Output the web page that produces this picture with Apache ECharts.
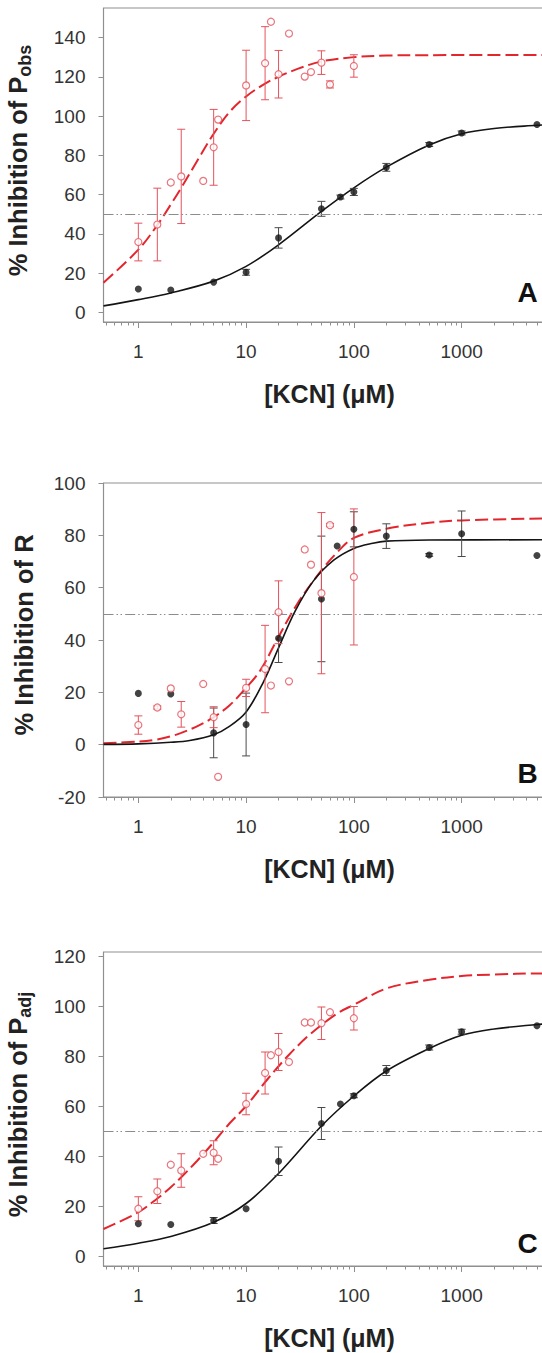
<!DOCTYPE html>
<html>
<head>
<meta charset="utf-8">
<title>KCN inhibition</title>
<script src="https://cdn.jsdelivr.net/npm/echarts@6.0.0/dist/echarts.min.js"></script>
<style>
html,body{margin:0;padding:0;background:#ffffff;}
#chart{width:542px;height:1353px;}
</style>
</head>
<body>
<div id="chart"></div>
<script>
// ---------------- shared axis data ----------------
const xMajorTicks = [1, 10, 100, 1000];
const xMinorTicks = [0.5,0.6,0.7,0.8,0.9,2,3,4,5,6,7,8,9,20,30,40,50,60,70,80,90,200,300,400,500,600,700,800,900,2000,3000,4000,5000,6000];
const xAxisTitle = '[KCN] (\u03bcM)';
const halfLine = 50;

// ---------------- Panel A : P_obs ----------------
const aYTicks = [0, 20, 40, 60, 80, 100, 120, 140];
const aBlackX = [1, 2, 5, 10, 20, 50, 75, 100, 200, 500, 1000, 5000];
const aBlackY = [12, 11.5, 15.5, 20.5, 38, 52.8, 58.8, 61.4, 73.9, 85.5, 91.4, 95.7];
const aBlackErr = [0, 0, 0, 1.5, 5.2, 3.8, 1, 1.8, 2, 1, 1, 0];
const aRedX = [1, 1.5, 2, 2.5, 4, 5, 5.5, 10, 15, 17, 20, 25, 35, 40, 50, 60, 100];
const aRedY = [35.9, 44.8, 66.2, 69.3, 67.0, 84.1, 98.2, 115.6, 126.9, 148, 121.3, 142, 120.1, 122.4, 127.2, 116.1, 125.5];
const aRedErr = [9.6, 18.5, 0, 24, 0, 19.3, 0, 17.9, 18.6, 0, 12.1, 0, 0, 0, 6, 1.8, 5.7];
const aBlackFit = [[0.475,3.4],[1,6.6],[2,10],[5,16],[10,23.5],[20,34.5],[50,51.5],[100,63.5],[200,74],[500,85.3],[1000,91],[2000,93.7],[5000,95.3],[6000,95.5]];
const aRedFit = [[0.475,15.2],[1,32],[1.5,44.5],[2,55],[2.5,63.5],[3.5,77],[5,91],[7,102],[10,110],[15,116.5],[20,120],[30,124],[50,127.8],[100,130],[200,130.8],[500,131],[6000,131.1]];

// ---------------- Panel B : R ----------------
const bYTicks = [-20, 0, 20, 40, 60, 80, 100];
const bBlackX = [1, 2, 5, 10, 20, 50, 70, 100, 200, 500, 1000, 5000];
const bBlackY = [19.6, 19.4, 4.5, 7.7, 40.7, 55.7, 75.9, 82.3, 79.7, 72.5, 80.6, 72.3];
const bBlackErr = [0, 0, 9.5, 12, 9.3, 24, 0, 6.7, 4.7, 0.5, 8.7, 0];
const bRedX = [1, 1.5, 2, 2.5, 4, 5, 5.5, 10, 15, 17, 20, 25, 35, 40, 50, 60, 100];
const bRedY = [7.5, 14.2, 21.5, 11.6, 23.2, 10.5, -12.3, 21.7, 28.9, 22.6, 50.6, 24.2, 74.6, 68.8, 57.9, 83.9, 64.1];
const bRedErr = [3.5, 0.6, 0, 4.9, 0, 4, 0, 3.3, 16.7, 0, 12, 0, 0, 0, 30.8, 0.6, 26];
const bBlackFit = [[0.475,0.1],[1,0.3],[2,0.9],[3,1.6],[5,3.8],[7,7],[10,12.5],[14.5,24],[20,37],[28.5,51],[42,62.5],[65,70.5],[100,75],[150,77],[200,77.8],[500,78.2],[6000,78.3]];
const bRedFit = [[0.475,0.5],[1,1.2],[1.5,2],[2,3.2],[2.5,4.5],[3.5,7],[5,10.5],[7,15],[9.4,20.5],[13.5,28.3],[19.3,40],[29.5,53.5],[48.7,66],[70,73.5],[100,79],[200,82.5],[500,84.8],[1000,85.7],[6000,86.5]];

// ---------------- Panel C : P_adj ----------------
const cYTicks = [0, 20, 40, 60, 80, 100, 120];
const cBlackX = [1, 2, 5, 10, 20, 50, 75, 100, 200, 500, 1000, 5000];
const cBlackY = [12.9, 12.6, 14.2, 18.9, 37.9, 53, 60.8, 64.1, 74.2, 83.4, 89.7, 92.1];
const cBlackErr = [0, 0, 1.2, 0, 5.7, 6.4, 0, 0.8, 2, 1, 1, 0];
const cRedX = [1, 1.5, 2, 2.5, 4, 5, 5.5, 10, 15, 17, 20, 25, 35, 40, 50, 60, 100];
const cRedY = [18.9, 25.9, 36.5, 34.2, 40.9, 41.3, 38.9, 60.8, 73.2, 80.3, 81.6, 77.6, 93.4, 93.4, 93.1, 97.5, 95.1];
const cRedErr = [4.8, 4.9, 0, 6.7, 0, 4.8, 0, 4.3, 8.4, 0, 7.4, 0, 0, 0, 6.5, 0, 4.7];
const cBlackFit = [[0.475,2.9],[1,5.1],[2,7.8],[5,13.5],[10,21],[20,33],[50,52],[100,64],[200,74],[500,83],[1000,88.3],[2000,90.8],[5000,92.6],[6000,92.8]];
const cRedFit = [[0.475,10.8],[1,17.5],[1.5,23],[2,27.5],[2.5,31.5],[3.5,38],[5,45.5],[7,53],[10,60],[16,71],[25,80.5],[40,89],[70,97],[100,100.5],[200,107],[500,110.5],[1000,112],[2000,112.6],[5000,113],[6000,113]];

// ---------------- styling ----------------
const FF = '"Liberation Sans", Arial, Helvetica, sans-serif';
const AXC = '#8f8f8f';
const RED_LINE = '#e3262d';
const RED_PT = '#e4535c';
const BLK = '#141414';
const ERR_BLK = '#4a4a4a';
const X_MIN = 0.475, X_MAX = 6000;
const GRID_LEFT = 103.5, GRID_W = 442;

const panels = [
  {letter:'A', top:8, height:314, yMin:-4.8, yMax:155, yTicks:aYTicks,
   yName:'{m|% Inhibition of P}{s|obs}', yGap:69.5, yPad:[0,0,0,9], letterY:292,
   bx:aBlackX, by:aBlackY, be:aBlackErr, rx:aRedX, ry:aRedY, re:aRedErr, bf:aBlackFit, rf:aRedFit},
  {letter:'B', top:483, height:314, yMin:-20, yMax:100, yTicks:bYTicks,
   yName:'{m|% Inhibition of R}', yGap:66.5, yPad:[0,0,0,10], letterY:773,
   bx:bBlackX, by:bBlackY, be:bBlackErr, rx:bRedX, ry:bRedY, re:bRedErr, bf:bBlackFit, rf:bRedFit},
  {letter:'C', top:952, height:314, yMin:-4, yMax:121.6, yTicks:cYTicks,
   yName:'{m|% Inhibition of P}{s|adj}', yGap:69.5, yPad:[0,0,0,9], letterY:1243,
   bx:cBlackX, by:cBlackY, be:cBlackErr, rx:cRedX, ry:cRedY, re:cRedErr, bf:cBlackFit, rf:cRedFit}
];

function pairs(xs, ys) { return xs.map((x, i) => [x, ys[i]]); }
function bars(xs, ys, es) {
  const out = [];
  xs.forEach((x, i) => { if (es[i] > 0) out.push([x, ys[i] - es[i], ys[i] + es[i]]); });
  return out;
}
function errRender(color) {
  return function (params, api) {
    const x = api.value(0);
    const top = api.coord([x, api.value(2)]);
    const bot = api.coord([x, api.value(1)]);
    const w = 4;
    const style = {stroke: color, lineWidth: 1, fill: null};
    return {type: 'group', children: [
      {type: 'line', shape: {x1: top[0], y1: top[1], x2: bot[0], y2: bot[1]}, style: style},
      {type: 'line', shape: {x1: top[0] - w, y1: top[1], x2: top[0] + w, y2: top[1]}, style: style},
      {type: 'line', shape: {x1: bot[0] - w, y1: bot[1], x2: bot[0] + w, y2: bot[1]}, style: style}
    ]};
  };
}

const grids = [], xAxes = [], yAxes = [], series = [], graphics = [];
panels.forEach((p, gi) => {
  grids.push({left: GRID_LEFT, top: p.top, width: GRID_W, height: p.height,
    show: true, borderColor: AXC, borderWidth: 1, backgroundColor: 'transparent',
    containLabel: false, outerBoundsMode: 'none'});
  xAxes.push({
    gridIndex: gi, type: 'log', logBase: 10, min: X_MIN, max: X_MAX, position: 'bottom',
    axisLine: {show: true, onZero: false, lineStyle: {color: AXC, width: 1.2}},
    axisTick: {show: true, inside: false, customValues: xMajorTicks, length: 6, lineStyle: {color: AXC, width: 1}},
    axisLabel: {show: true, customValues: xMajorTicks, formatter: v => String(Math.round(v)),
      fontSize: 19, color: '#333', margin: 20, fontFamily: FF},
    splitLine: {show: false}, minorTick: {show: false},
    name: xAxisTitle, nameLocation: 'middle', nameGap: 59.5,
    nameTextStyle: {fontSize: 25, fontWeight: 'bold', color: '#222', fontFamily: FF, padding: [0, 0, 0, 10]}
  });
  xAxes.push({
    gridIndex: gi, type: 'log', logBase: 10, min: X_MIN, max: X_MAX, position: 'bottom',
    axisLine: {show: false, onZero: false},
    axisTick: {show: true, inside: false, customValues: xMinorTicks, length: 3.5, lineStyle: {color: AXC, width: 1}},
    axisLabel: {show: false}, splitLine: {show: false}
  });
  yAxes.push({
    gridIndex: gi, type: 'value', min: p.yMin, max: p.yMax, position: 'left',
    axisLine: {show: true, onZero: false, lineStyle: {color: AXC, width: 1.2}},
    axisTick: {show: true, inside: false, customValues: p.yTicks, length: 5, lineStyle: {color: AXC, width: 1}},
    axisLabel: {show: true, customValues: p.yTicks, fontSize: 19, color: '#333', margin: 18, fontFamily: FF},
    splitLine: {show: false},
    name: p.yName, nameLocation: 'middle', nameGap: p.yGap, nameRotate: 90,
    nameTextStyle: {color: '#222', fontFamily: FF, padding: p.yPad,
      rich: {
        m: {fontSize: 25.5, fontWeight: 'bold', color: '#222', fontFamily: FF},
        s: {fontSize: 18, fontWeight: 'bold', color: '#222', fontFamily: FF, padding: [14, 0, 0, 0]}
      }}
  });
  const xi = gi * 2;
  series.push({
    type: 'line', xAxisIndex: xi, yAxisIndex: gi, data: p.rf, smooth: 0.35,
    symbol: 'none', showSymbol: false, silent: true, z: 3,
    lineStyle: {color: RED_LINE, width: 2, type: [13, 5]}
  });
  series.push({
    type: 'line', xAxisIndex: xi, yAxisIndex: gi, data: p.bf, smooth: 0.35,
    symbol: 'none', showSymbol: false, silent: true, z: 3,
    lineStyle: {color: BLK, width: 1.6, type: 'solid'},
    markLine: {silent: true, symbol: ['none', 'none'], label: {show: false},
      lineStyle: {color: '#8c8c8c', width: 1.2, type: [10, 3, 1.5, 2.5, 1.5, 3.2]},
      data: [{yAxis: halfLine}], animation: false}
  });
  series.push({
    type: 'custom', xAxisIndex: xi, yAxisIndex: gi, data: bars(p.bx, p.by, p.be),
    renderItem: errRender(ERR_BLK), encode: {x: 0, y: [1, 2]}, silent: true, z: 4
  });
  series.push({
    type: 'custom', xAxisIndex: xi, yAxisIndex: gi, data: bars(p.rx, p.ry, p.re),
    renderItem: errRender(RED_PT), encode: {x: 0, y: [1, 2]}, silent: true, z: 4
  });
  series.push({
    type: 'scatter', xAxisIndex: xi, yAxisIndex: gi, data: pairs(p.bx, p.by),
    symbol: 'circle', symbolSize: 7, itemStyle: {color: BLK}, silent: true, z: 6
  });
  series.push({
    type: 'scatter', xAxisIndex: xi, yAxisIndex: gi, data: pairs(p.rx, p.ry),
    symbol: 'circle', symbolSize: 7, itemStyle: {color: '#ffffff', borderColor: RED_PT, borderWidth: 1.2},
    silent: true, z: 7
  });
  graphics.push({
    type: 'text', x: 527.5, y: p.letterY, silent: true, z: 10,
    style: {text: p.letter, fontSize: 28, fontWeight: 'bold', fontFamily: FF, fill: '#111',
      align: 'center', verticalAlign: 'middle'}
  });
});

const chart = echarts.init(document.getElementById('chart'), null, {renderer: 'svg', width: 542, height: 1353});
chart.setOption({
  animation: false,
  backgroundColor: '#ffffff',
  grid: grids,
  xAxis: xAxes,
  yAxis: yAxes,
  series: series,
  graphic: graphics
});
</script>
</body>
</html>
